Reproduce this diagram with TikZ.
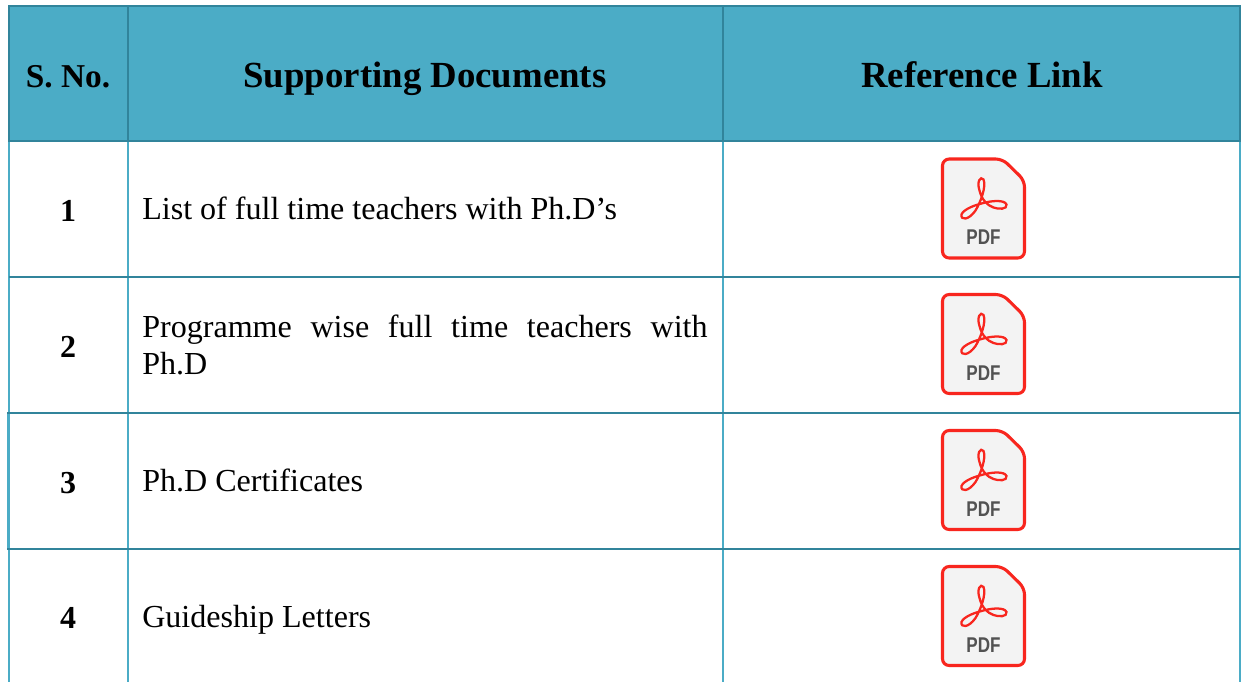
\documentclass[tikz,border=0pt]{standalone}
\usepackage{fontspec}
\setmainfont{Liberation Serif}
\setsansfont{Liberation Sans}
\definecolor{headfill}{HTML}{4BACC6}
\definecolor{headline}{HTML}{31849B}
\definecolor{iconred}{HTML}{F8261E}
\definecolor{iconfill}{HTML}{F3F3F3}
\tikzset{
 x=0.75pt,y=-0.75pt,
 lightrule/.style={draw=headfill,line width=1.5pt},
 darkrule/.style={draw=headline,line width=1.5pt},
 headtext/.style={font=\fontsize{27.6}{32}\selectfont\bfseries,anchor=base,inner sep=0pt},
 headtextsmall/.style={font=\fontsize{25}{30}\selectfont\bfseries,anchor=base,inner sep=0pt},
 numtext/.style={font=\fontsize{24}{28}\selectfont\bfseries,anchor=base,inner sep=0pt},
 bodytext/.style={font=\fontsize{24.05}{27.75}\selectfont,anchor=base west,inner sep=0pt},
 pdficon/.pic={
  \fill[iconfill,draw=iconred,line width=2.3pt,rounded corners=5pt]
    (-41,-49.5)--(19,-49.5)--(41,-28)--(41,49.5)--(-41,49.5)--cycle;
  \draw[iconred,line width=1.7pt]
    (-22,6) .. controls (-23,12) and (-15,12) .. (-8,2)
    .. controls (-3,-6) and (3,-22) .. (0,-29)
    .. controls (-3,-33) and (-7,-27) .. (-4,-18)
    .. controls (-2,-9) and (4,-3) .. (10,-1)
    .. controls (15,1) and (24,1) .. (23,-4)
    .. controls (21,-9) and (8,-8) .. (-2,-5)
    .. controls (-10,-3) and (-20,1) .. (-22,6) -- cycle;
  \node[text=black!68,font=\fontsize{16}{18}\selectfont\sffamily\bfseries,inner sep=0pt,xscale=.8] (pdflabel) at (0,29) {PDF};
 }
}
\begin{document}
\begin{tikzpicture}
\useasboundingbox (0,0) rectangle (1242,682);
\fill[white] (0,0) rectangle (1242,682);
\fill[headfill] (9,6) rectangle (1240,141);
% vertical rules of body
\foreach \xx in {9,128,723,1240} \draw[lightrule] (\xx,141) -- (\xx,682);
\draw[lightrule,line width=2pt] (8.5,413) -- (8.5,549);
\draw[lightrule,line width=2pt] (1240,413) -- (1240,549);
% header frame
\draw[darkrule] (9,6) rectangle (1240,141);
\foreach \xx in {128,723} \draw[darkrule] (\xx,6) -- (\xx,141);
\draw[headline,line width=1.9pt] (9,141) -- (1240,141);
\draw[darkrule] (9,277) -- (1240,277);
\foreach \yy in {413,549} \draw[darkrule] (7,\yy) -- (1240,\yy);
% header
\node[headtextsmall] (h1) at (68,87) {S. No.};
\node[headtext] (h2) at (425,87) {Supporting Documents};
\node[headtext] (h3) at (982,87) {Reference Link};
% numbers
\node[numtext] (n1) at (68,221) {1};
\node[numtext] (n2) at (68,357) {2};
\node[numtext] (n3) at (68,493) {3};
\node[numtext] (n4) at (68,628) {4};
% body
\node[bodytext] (t1) at (142,219) {List of full time teachers with Ph.D’s};
\node[bodytext,text width=424pt,align=justify,anchor=west] (t2) at (142,345) {Programme wise full time teachers with Ph.D};
\node[bodytext] (t3) at (142,491) {Ph.D Certificates};
\node[bodytext] (t4) at (142,627) {Guideship Letters};
% icons
\pic at (983.5,208.5) {pdficon};
\pic at (983.5,344) {pdficon};
\pic at (983.5,480) {pdficon};
\pic at (983.5,616) {pdficon};
\end{tikzpicture}
\end{document}
